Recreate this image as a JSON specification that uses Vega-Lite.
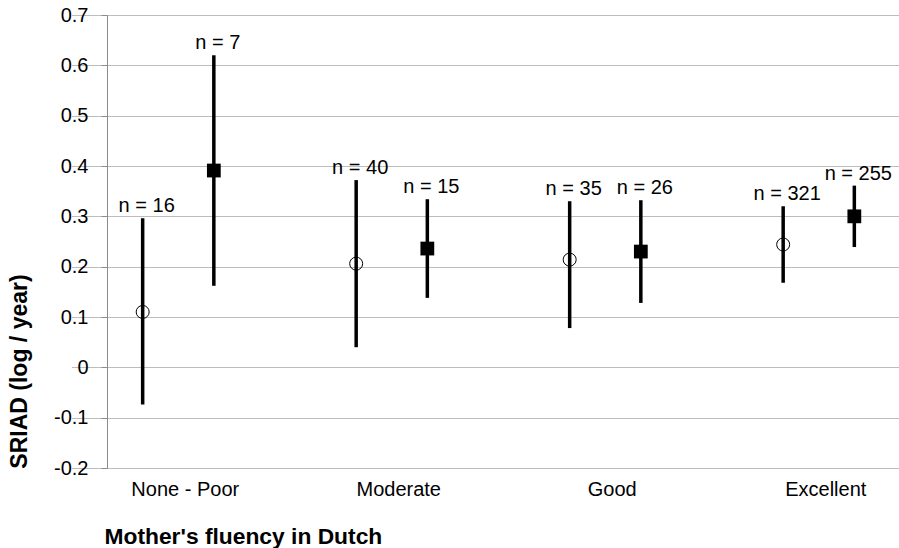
{
  "$schema": "https://vega.github.io/schema/vega-lite/v6.json",
  "width": 783,
  "height": 453,
  "autosize": "none",
  "padding": {"left": 107, "top": 15, "right": 9, "bottom": 80},
  "background": "white",
  "config": {
    "font": "Liberation Sans",
    "view": {"stroke": null}
  },
  "data": {
    "values": [
      {"fluency": "None - Poor", "series": "Circle", "mean": 0.110, "lo": -0.074, "hi": 0.296, "label": "n = 16"},
      {"fluency": "None - Poor", "series": "Square", "mean": 0.391, "lo": 0.162, "hi": 0.620, "label": "n = 7"},
      {"fluency": "Moderate", "series": "Circle", "mean": 0.206, "lo": 0.040, "hi": 0.372, "label": "n = 40"},
      {"fluency": "Moderate", "series": "Square", "mean": 0.236, "lo": 0.138, "hi": 0.334, "label": "n = 15"},
      {"fluency": "Good", "series": "Circle", "mean": 0.214, "lo": 0.078, "hi": 0.330, "label": "n = 35"},
      {"fluency": "Good", "series": "Square", "mean": 0.230, "lo": 0.128, "hi": 0.332, "label": "n = 26"},
      {"fluency": "Excellent", "series": "Circle", "mean": 0.244, "lo": 0.168, "hi": 0.320, "label": "n = 321"},
      {"fluency": "Excellent", "series": "Square", "mean": 0.300, "lo": 0.239, "hi": 0.361, "label": "n = 255"}
    ]
  },
  "encoding": {
    "x": {
      "field": "fluency",
      "type": "nominal",
      "sort": ["None - Poor", "Moderate", "Good", "Excellent"],
      "scale": {"range": [-35.5, 818.5], "paddingInner": 0, "paddingOuter": 0},
      "axis": {
        "title": "Mother's fluency in Dutch",
        "titleFont": "Liberation Sans",
        "titleFontSize": 22.8,
        "titleFontWeight": "bold",
        "titleColor": "black",
        "titleX": -3,
        "titleY": 68,
        "titleAlign": "left",
        "titleBaseline": "middle",
        "titleAngle": 0,
        "labelAngle": 0,
        "labelFontSize": 20,
        "labelColor": "black",
        "labelPadding": 11,
        "labelOffset": 7,
        "ticks": false,
        "tickSize": 0,
        "domain": false,
        "grid": false
      }
    },
    "xOffset": {
      "field": "series",
      "type": "nominal",
      "scale": {"domain": ["Circle", "Square"], "paddingInner": 0, "paddingOuter": 0.5}
    }
  },
  "layer": [
    {
      "mark": {"type": "rule", "color": "black", "strokeWidth": 3.5},
      "encoding": {
        "y": {
          "field": "lo",
          "type": "quantitative",
          "scale": {"domain": [-0.2, 0.7], "nice": false, "zero": false},
          "axis": {
            "title": "SRIAD (log / year)",
            "titleFontSize": 23,
            "titleFontWeight": "bold",
            "titleColor": "black",
            "titleX": -88,
            "titleY": 356,
            "titleAlign": "center",
            "titleBaseline": "middle",
            "values": [-0.2, -0.1, 0, 0.1, 0.2, 0.3, 0.4, 0.5, 0.6, 0.7],
            "labelExpr": "datum.value == 0 ? '0' : replace(format(datum.value, '.1f'), '\u2212', '-')",
            "labelFontSize": 20,
            "labelColor": "black",
            "labelPadding": 13,
            "tickSize": 6,
            "tickColor": "#8c8c8c",
            "domainColor": "#8c8c8c",
            "domainWidth": 1,
            "grid": true,
            "gridColor": "#bdbdbd",
            "gridWidth": 1.2
          }
        },
        "y2": {"field": "hi"}
      }
    },
    {
      "transform": [{"filter": "datum.series === 'Circle'"}],
      "mark": {"type": "point", "shape": "circle", "filled": false, "stroke": "black", "strokeWidth": 1, "size": 169, "opacity": 1},
      "encoding": {
        "y": {"field": "mean", "type": "quantitative"}
      }
    },
    {
      "transform": [{"filter": "datum.series === 'Square'"}],
      "mark": {"type": "point", "shape": "square", "filled": true, "color": "black", "size": 190, "opacity": 1},
      "encoding": {
        "y": {"field": "mean", "type": "quantitative"}
      }
    },
    {
      "mark": {"type": "text", "fontSize": 20, "color": "black", "baseline": "alphabetic", "align": "center", "dy": -6, "dx": 4},
      "encoding": {
        "y": {"field": "hi", "type": "quantitative"},
        "text": {"field": "label"}
      }
    }
  ]
}
